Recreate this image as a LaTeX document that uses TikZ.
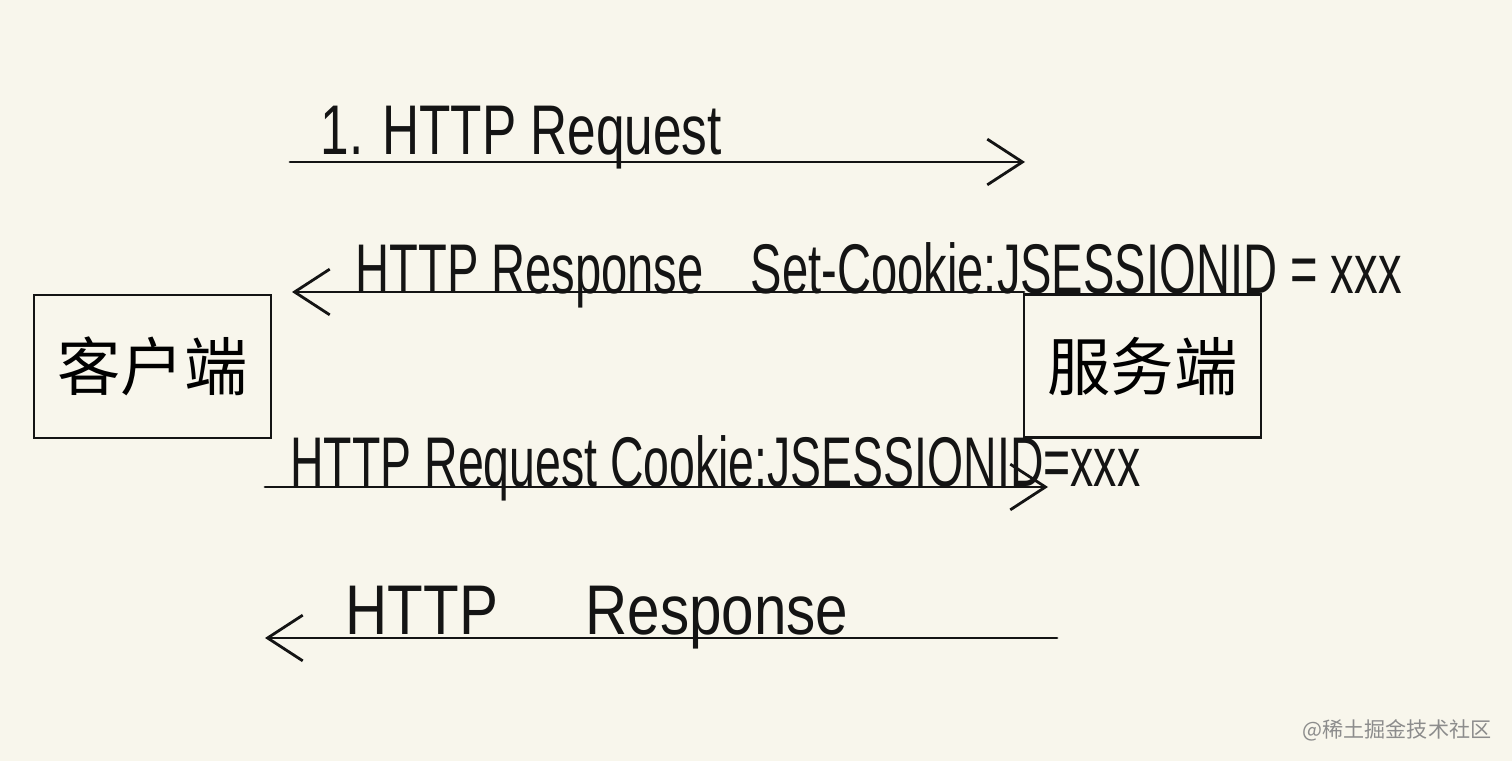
\documentclass[tikz,border=0pt]{standalone}
\usepackage{fontspec}
\setmainfont{Liberation Sans}
\newfontfamily\cjk{Noto Sans CJK SC}
\usetikzlibrary{arrows.meta}
\definecolor{paper}{RGB}{248,246,236}
\definecolor{ink}{RGB}{20,20,20}

\begin{document}
\begin{tikzpicture}[x=0.01cm,y=-0.01cm,>={Straight Barb[length=10pt,width=13pt]},line cap=round,
  lbl/.style={inner sep=0pt,anchor=base west,font=\fontsize{20}{24}\selectfont,text=ink},
  box/.style={draw=ink,line width=0.6pt,minimum width=2.37cm,minimum height=1.43cm,font=\cjk\fontsize{18}{22}\selectfont}]
\fill[paper] (0,0) rectangle (1512,761);
\useasboundingbox (0,0) rectangle (1512,761);
% client and server
\node[box] (client) at (152.5,366.5) {客户端};
\node[box] (server) at (1142.5,366) {服务端};
% arrow ends
\coordinate (a1s) at (290,162);
\coordinate (a1e) at (1025,162);
\coordinate (a2s) at (1024,292);
\coordinate (a2e) at (292,292);
\coordinate (a3s) at (265,487);
\coordinate (a3e) at (1048,487);
\coordinate (a4s) at (1057,638);
\coordinate (a4e) at (265,638);
\draw[->,ink,line width=0.8pt] (a1s) -- (a1e);
\draw[->,ink,line width=0.8pt] (a2s) -- (a2e);
\draw[->,ink,line width=0.8pt] (a3s) -- (a3e);
\draw[->,ink,line width=0.8pt] (a4s) -- (a4e);
% labels
\node[lbl,xscale=0.73] (t1) at (320,155) {1. HTTP Request};
\node[lbl,xscale=0.67] (t2) at (355,294) {HTTP Response\quad Set-Cookie:JSESSIONID = xxx};
\node[lbl,xscale=0.66] (t3) at (290,486) {HTTP Request Cookie:JSESSIONID=xxx};
\node[lbl,xscale=0.83] (t4) at (345,634) {HTTP\hspace{1.5em}Response};
% watermark
\node[anchor=east,inner sep=0pt,text=black!45,font=\cjk\fontsize{6}{7}\selectfont] (mark) at (1492,730) {@稀土掘金技术社区};
\end{tikzpicture}
\end{document}
